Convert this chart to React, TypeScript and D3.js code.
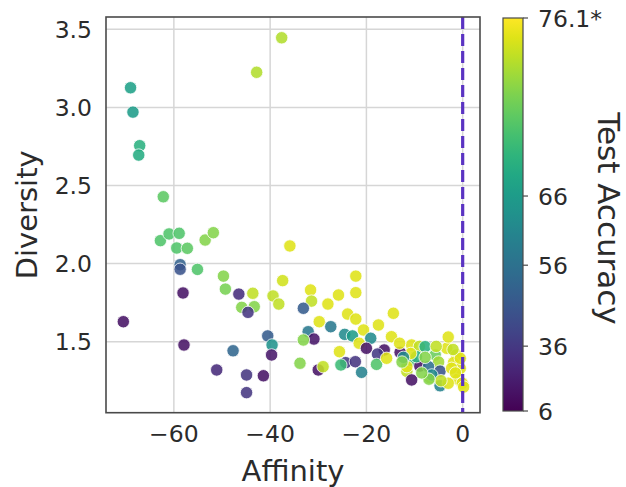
import React from "react";
import * as d3 from "d3";

const affinity = [
  -69.0, -68.5, -67.1, -67.3, -62.2, -37.6, -42.8, -35.9, -62.8, -61.0,
  -58.9, -59.4, -57.2, -53.5, -51.8, -58.7, -58.7, -55.1, -49.7, -49.3,
  -58.1, -46.5, -43.6, -45.9, -43.3, -44.6, -39.4, -38.2, -37.4, -70.5,
  -57.9, -47.7, -40.5, -39.6, -39.7, -51.1, -44.9, -41.4, -44.9,
  -22.2, -22.2, -31.6, -25.8, -31.4, -28.0, -33.1, -23.9, -22.2, -29.8,
  -27.4, -32.1, -30.9, -33.1, -24.5, -22.9, -20.6, -17.5, -19.1, -21.5,
  -20.0, -16.3, -17.7, -25.6, -33.8, -30.0, -29.0, -24.3, -22.3, -25.3,
  -21.0, -17.9, -15.8,
  -14.4, -14.8, -10.6, -9.0, -7.8, -5.7, -3.3, -3.0, -1.3, -11.6,
  -10.6, -6.8, -5.0, -1.0, -8.9, -4.7, -10.6, -4.7, -1.9, -0.1,
  -3.0, -11.6, -7.1, -6.4, -0.5, -0.5, -9.6, -10.8, -13.0, -12.3,
  -12.6, -7.8, -2.3, -5.5, -13.1, -1.5, -4.5, 0.2, -7.0, -2.0,
  -8.5,
];

const diversity = [
  3.126, 2.97, 2.755, 2.695, 2.428, 3.446, 3.225, 2.113, 2.147, 2.19,
  2.194, 2.10, 2.098, 2.151, 2.198, 1.993, 1.964, 1.963, 1.92, 1.837,
  1.812, 1.805, 1.81, 1.72, 1.724, 1.688, 1.793, 1.741, 1.891, 1.628,
  1.479, 1.442, 1.537, 1.479, 1.415, 1.319, 1.287, 1.282, 1.174,
  1.92, 1.814, 1.831, 1.799, 1.76, 1.741, 1.714, 1.677, 1.645, 1.628,
  1.596, 1.564, 1.517, 1.511, 1.547, 1.537, 1.575, 1.607, 1.522, 1.49,
  1.458, 1.447, 1.421, 1.436, 1.362, 1.319, 1.34, 1.366, 1.372, 1.351,
  1.304, 1.355, 1.394,
  1.682, 1.532, 1.479, 1.47, 1.468, 1.415, 1.458, 1.53, 1.415, 1.31,
  1.38, 1.27, 1.37, 1.26, 1.344, 1.312, 1.255, 1.218, 1.366, 1.234,
  1.234, 1.34, 1.34, 1.287, 1.33, 1.394, 1.404, 1.425, 1.432, 1.40,
  1.37, 1.40, 1.33, 1.47, 1.49, 1.30, 1.25, 1.21, 1.26, 1.45,
  1.30,
];

const accuracy = [
  66.5, 66, 68, 67.5, 70.5, 73.5, 73.5, 75, 70, 70,
  70, 70, 70.5, 72, 72, 50, 45, 70, 72, 71.5,
  15, 30, 74, 72, 72, 35, 74, 74, 74.5, 15,
  15, 52, 48, 64, 18, 28, 35, 15, 35,
  75, 75, 75, 75, 74, 75, 48, 75, 75, 75,
  58, 58, 18, 72, 62, 66, 75, 75, 62, 75,
  15, 15, 36, 75, 72, 15, 74, 36, 34, 69,
  60, 70, 75,
  75, 75, 75, 74, 68, 71, 75, 75, 75, 74,
  69, 74, 73, 75, 15, 45, 15, 60, 75, 75,
  75, 75, 55, 62, 75, 75, 68, 75, 15, 62,
  72, 72, 75, 74, 75, 75, 74, 75, 72, 74,
  72,
];

const xTicks = [-60, -40, -20, 0];
const yTicks = [1.5, 2.0, 2.5, 3.0, 3.5];
const cbTicks = [6, 36, 56, 66, 76.1];
const cbTickLabels = ["6", "36", "56", "66", "76.1*"];
const cbTickFractions = [0, 0.165, 0.371, 0.547, 1];

const FONT = "DejaVu Sans, sans-serif";
const TEXT = "#2b2b2b";

export default function App() {
  const W = 626;
  const H = 487;
  const left = 106, right = 480, top = 17, bottom = 412.7;

  const x = d3.scaleLinear().domain([-74.1, 3.6]).range([left, right]);
  const y = d3.scaleLinear().domain([1.0455, 3.579]).range([bottom, top]);

  const toT = d3.scaleLinear().domain(cbTicks).range(cbTickFractions).clamp(true);
  const color = (v: number) => d3.interpolateViridis(toT(v));

  const cbLeft = 503, cbRight = 523, cbTop = 18, cbBottom = 411;
  const cbY = d3.scaleLinear().domain([0, 1]).range([cbBottom, cbTop]);

  const stops = d3.range(0, 1.0001, 0.05);
  const points = affinity.map((a, i) => ({ a, d: diversity[i], v: accuracy[i] }));

  return (
    <svg width={W} height={H} style={{ position: "absolute", left: 0, top: 0, background: "#fff" }}>
      <defs>
        <linearGradient id="vir" x1="0" y1="1" x2="0" y2="0">
          {stops.map((s) => (
            <stop key={s} offset={s} stopColor={d3.interpolateViridis(s)} />
          ))}
        </linearGradient>
      </defs>
      <rect x={0} y={0} width={W} height={H} fill="#fff" />
      {xTicks.map((t) => (
        <line key={"gx" + t} x1={x(t)} x2={x(t)} y1={top} y2={bottom} stroke="#d6d6d6" strokeWidth={1.5} />
      ))}
      {yTicks.map((t) => (
        <line key={"gy" + t} x1={left} x2={right} y1={y(t)} y2={y(t)} stroke="#d6d6d6" strokeWidth={1.5} />
      ))}
      {points.map((p, i) => (
        <circle
          key={i}
          cx={x(p.a)}
          cy={y(p.d)}
          r={6.2}
          fill={color(p.v)}
          fillOpacity={0.88}
          stroke="#fff"
          strokeWidth={0.8}
        />
      ))}
      <line x1={x(0)} x2={x(0)} y1={top} y2={bottom} stroke="#5a33c2" strokeWidth={3.2} strokeDasharray="12 5" />
      <rect x={left} y={top} width={right - left} height={bottom - top} fill="none" stroke="#4a4a4a" strokeWidth={1.6} />
      {xTicks.map((t) => (
        <text key={"xl" + t} x={x(t)} y={442} textAnchor="middle" fontFamily={FONT} fontSize={23.5} fill={TEXT}>
          {t < 0 ? "\u2212" + Math.abs(t) : String(t)}
        </text>
      ))}
      {yTicks.map((t) => (
        <text key={"yl" + t} x={92} y={y(t) + 8.5} textAnchor="end" fontFamily={FONT} fontSize={23.5} fill={TEXT}>
          {t.toFixed(1)}
        </text>
      ))}
      <text x={(left + right) / 2} y={481} textAnchor="middle" fontFamily={FONT} fontSize={29} fill={TEXT}>
        Affinity
      </text>
      <text
        transform={`translate(37, ${(top + bottom) / 2}) rotate(-90)`}
        textAnchor="middle"
        fontFamily={FONT}
        fontSize={29}
        fill={TEXT}
      >
        Diversity
      </text>
      <rect x={cbLeft} y={cbTop} width={cbRight - cbLeft} height={cbBottom - cbTop} fill="url(#vir)" stroke="#4a4a4a" strokeWidth={1.2} />
      {cbTicks.map((t, i) => {
        const yy = cbY(toT(t));
        return (
          <g key={"cb" + t}>
            <line x1={cbRight} x2={cbRight + 5} y1={yy} y2={yy} stroke="#4a4a4a" strokeWidth={1.2} />
            <text x={538} y={yy + 8.5} fontFamily={FONT} fontSize={23.5} fill={TEXT}>
              {cbTickLabels[i]}
            </text>
          </g>
        );
      })}
      <text
        transform={`translate(598, ${(cbTop + cbBottom) / 2 + 4}) rotate(90)`}
        textAnchor="middle"
        fontFamily={FONT}
        fontSize={31}
        fill={TEXT}
      >
        Test Accuracy
      </text>
    </svg>
  );
}
